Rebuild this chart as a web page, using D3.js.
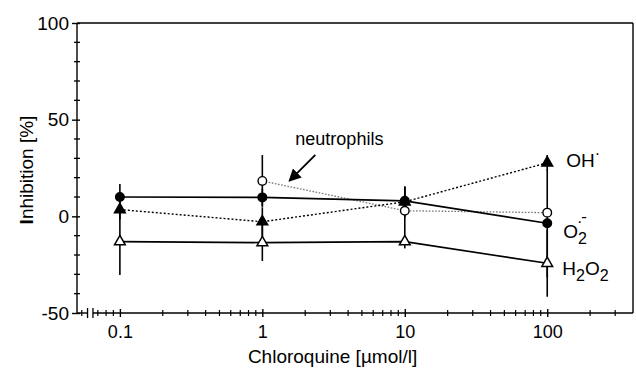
<!DOCTYPE html>
<html>
<head>
<meta charset="utf-8">
<script src="https://cdn.jsdelivr.net/npm/d3@7"></script>
<style>
  body { margin: 0; background: #fff; }
  text { font-family: 'Liberation Sans', Arial, Helvetica, sans-serif; fill: #000; }
</style>
</head>
<body>
<div id="chart"></div>
<script>
// concentrations in umol/l, values are % inhibition
var concentrations = [0.1, 1, 10, 100]
var superoxide = [10, 9.8, 8, -3.6]
var superoxideErr = [6.7, 4.5, 7, 28]
var hydroxyl = [3.5, -2.8, 7.5, 27.7]
var hydroxylErr = [5, 7.5, 8, 4]
var peroxide = [-13.1, -13.6, -13.1, -24.3]
var peroxideErr = [17.3, 9.5, 3.5, 17.3]
var neutroConc = [1, 10, 100]
var neutrophils = [18.3, 2.9, 1.9]
var neutrophilsErr = [13.4, 12.5, 2]

var yTicks = [-50, 0, 50, 100]
var xTicks = [0.1, 1, 10, 100]

var margin = { top: 23, left: 77, right: 3, bottom: 56 }
var width = 636 - margin.left - margin.right
var height = 369 - margin.top - margin.bottom

var svg = d3
  .select('#chart')
  .append('svg')
  .attr('width', width + margin.left + margin.right)
  .attr('height', height + margin.top + margin.bottom)
  .append('g')
  .attr('transform', 'translate(' + margin.left + ',' + margin.top + ')')

var xPositionScale = d3.scaleLog().domain([0.05, 400]).range([0, width])
var yPositionScale = d3.scaleLinear().domain([-50, 100]).range([height, 0])

function toPoints(xs, ys, errs) {
  return xs.map(function(x, i) {
    return { x: x, y: ys[i], err: errs[i] }
  })
}

var series = [
  { name: 'neutro', points: toPoints(neutroConc, neutrophils, neutrophilsErr), line: 'dotgrey', marker: 'circle', fill: '#fff' },
  { name: 'OH', points: toPoints(concentrations, hydroxyl, hydroxylErr), line: 'dot', marker: 'triangle', fill: '#000' },
  { name: 'O2', points: toPoints(concentrations, superoxide, superoxideErr), line: 'solid', marker: 'circle', fill: '#000' },
  { name: 'H2O2', points: toPoints(concentrations, peroxide, peroxideErr), line: 'solid', marker: 'triangle', fill: '#fff' }
]

// frame top + right
svg.append('line')
  .attr('x1', 0).attr('x2', width).attr('y1', 0).attr('y2', 0)
  .attr('stroke', '#000').attr('stroke-width', 1.4)
svg.append('line')
  .attr('x1', width).attr('x2', width).attr('y1', 0).attr('y2', height)
  .attr('stroke', '#000').attr('stroke-width', 1.4)

// y axis
var yAxis = d3.axisLeft(yPositionScale).tickValues(yTicks).tickSize(5).tickPadding(3)
  .tickFormat(function(d) { return String(d) })
var yG = svg.append('g').attr('class', 'axis y-axis').call(yAxis)
yG.select('.domain').remove()
yG.selectAll('.tick line').attr('x1', 3).attr('stroke-width', 1.4)
yG.selectAll('text').attr('font-size', 19).attr('font-family', null)
svg.append('line')
  .attr('x1', 0).attr('x2', 0).attr('y1', 0).attr('y2', height)
  .attr('stroke', '#000').attr('stroke-width', 1.4)
svg.selectAll('.y-minor')
  .data(d3.range(-40, 100, 10).filter(function(d) { return yTicks.indexOf(d) < 0 }))
  .enter()
  .append('line')
  .attr('class', 'y-minor')
  .attr('x1', -3).attr('x2', 3)
  .attr('y1', function(d) { return yPositionScale(d) })
  .attr('y2', function(d) { return yPositionScale(d) })
  .attr('stroke', '#000').attr('stroke-width', 1.3)

// x axis with a break near the y axis
var xAxis = d3.axisBottom(xPositionScale).tickValues(xTicks).tickSize(4).tickPadding(8)
  .tickFormat(d3.format('~g'))
var xG = svg.append('g').attr('class', 'axis x-axis')
  .attr('transform', 'translate(0,' + height + ')').call(xAxis)
xG.select('.domain').remove()
xG.selectAll('.tick line').attr('y1', -4).attr('stroke-width', 1.4)
xG.selectAll('text').attr('font-size', 18).attr('font-family', null)

var breakL = xPositionScale(0.0593)
var breakR = xPositionScale(0.0647)
svg.append('line')
  .attr('x1', 0).attr('x2', breakL).attr('y1', height).attr('y2', height)
  .attr('stroke', '#000').attr('stroke-width', 1.4)
svg.append('line')
  .attr('x1', breakR).attr('x2', width).attr('y1', height).attr('y2', height)
  .attr('stroke', '#000').attr('stroke-width', 1.4)
svg.selectAll('.break')
  .data([breakL, breakR])
  .enter()
  .append('line')
  .attr('x1', function(d) { return d }).attr('x2', function(d) { return d })
  .attr('y1', height - 5).attr('y2', height + 5)
  .attr('stroke', '#000').attr('stroke-width', 1.3)

var minorX = [0.054, 0.07, 0.08, 0.09]
;[0.1, 1, 10].forEach(function(decade) {
  for (var k = 2; k <= 9; k++) minorX.push(decade * k)
})
minorX.push(200, 300)
svg.selectAll('.x-minor')
  .data(minorX)
  .enter()
  .append('line')
  .attr('class', 'x-minor')
  .attr('x1', function(d) { return xPositionScale(d) })
  .attr('x2', function(d) { return xPositionScale(d) })
  .attr('y1', height - 3).attr('y2', height + 3)
  .attr('stroke', '#000').attr('stroke-width', 1.2)

// axis titles
svg.append('text')
  .attr('x', (xPositionScale(1) + xPositionScale(10)) / 2 - 1)
  .attr('y', height + 50)
  .attr('text-anchor', 'middle')
  .attr('font-size', 19)
  .text('Chloroquine [\u00b5mol/l]')

var yTitle = svg.append('text')
  .attr('transform', 'translate(-44,' + (height / 2 + 2) + ') rotate(-90)')
  .attr('text-anchor', 'middle')
  .attr('font-size', 19)
yTitle.append('tspan').attr('font-weight', 'bold').text('I')
yTitle.append('tspan').text('nhibition [%]')

// lines
var line = d3
  .line()
  .x(function(d) { return xPositionScale(d.x) })
  .y(function(d) { return yPositionScale(d.y) })

var lineStyles = {
  solid: { stroke: '#000', width: 1.6, dash: null },
  dot: { stroke: '#000', width: 1.4, dash: '2,2' },
  dotgrey: { stroke: '#777', width: 1.3, dash: '1.6,1.6' }
}

series.forEach(function(s) {
  var st = lineStyles[s.line]
  svg.append('path')
    .datum(s.points)
    .attr('d', line)
    .attr('fill', 'none')
    .attr('stroke', st.stroke)
    .attr('stroke-width', st.width)
    .attr('stroke-dasharray', st.dash)
})

// error bars
series.forEach(function(s) {
  svg.selectAll('.err-' + s.name)
    .data(s.points)
    .enter()
    .append('line')
    .attr('x1', function(d) { return xPositionScale(d.x) })
    .attr('x2', function(d) { return xPositionScale(d.x) })
    .attr('y1', function(d) { return yPositionScale(d.y + d.err) })
    .attr('y2', function(d) { return yPositionScale(d.y - d.err) })
    .attr('stroke', '#000')
    .attr('stroke-width', 1.6)
})

// markers
var tri = d3.symbol().type(d3.symbolTriangle).size(50)
series.forEach(function(s) {
  var g = svg.selectAll('.mk-' + s.name)
    .data(s.points)
    .enter()
  if (s.marker === 'circle') {
    g.append('circle')
      .attr('cx', function(d) { return xPositionScale(d.x) })
      .attr('cy', function(d) { return yPositionScale(d.y) })
      .attr('r', 4.3)
      .attr('fill', s.fill)
      .attr('stroke', '#000')
      .attr('stroke-width', 1.4)
  } else {
    g.append('path')
      .attr('d', tri)
      .attr('transform', function(d) {
        return 'translate(' + xPositionScale(d.x) + ',' + yPositionScale(d.y) + ')'
      })
      .attr('fill', s.fill)
      .attr('stroke', '#000')
      .attr('stroke-width', 1.5)
  }
})

// labels on the right
var lx = xPositionScale(100) + 16
var oh = svg.append('text')
  .attr('x', lx + 3)
  .attr('y', yPositionScale(hydroxyl[3]) + 4)
  .attr('font-size', 19)
oh.append('tspan').text('OH')
oh.append('tspan').attr('dy', -8).attr('font-size', 16).text('\u00b7')

var o2 = svg.append('text')
  .attr('x', lx)
  .attr('y', yPositionScale(superoxide[3]) + 15)
  .attr('font-size', 19)
o2.append('tspan').text('O')
o2.append('tspan').attr('dy', 6).attr('font-size', 16).text('2')
o2.append('tspan').attr('dx', -10).attr('dy', -17).attr('font-size', 16).text('\u00b7')
o2.append('tspan').attr('dx', -1).attr('dy', -5).attr('font-size', 17).text('-')

var h2 = svg.append('text')
  .attr('x', lx - 1)
  .attr('y', yPositionScale(peroxide[3]) + 12)
  .attr('font-size', 19)
h2.append('tspan').text('H')
h2.append('tspan').attr('dy', 6).attr('font-size', 16).text('2')
h2.append('tspan').attr('dy', -6).text('O')
h2.append('tspan').attr('dy', 6).attr('font-size', 16).text('2')

// neutrophils annotation with arrow
svg.append('text')
  .attr('x', xPositionScale(1) + 33)
  .attr('y', yPositionScale(neutrophils[0]) - 36)
  .attr('font-size', 18)
  .text('neutrophils')

svg.append('defs')
  .append('marker')
  .attr('id', 'arrow')
  .attr('viewBox', '0 0 10 10')
  .attr('refX', 9).attr('refY', 5)
  .attr('markerWidth', 7).attr('markerHeight', 7)
  .attr('markerUnits', 'strokeWidth')
  .attr('orient', 'auto')
  .append('path')
  .attr('d', 'M0,0 L10,5 L0,10 z')
  .attr('fill', '#000')

var ax = xPositionScale(1) + 27
var ay = yPositionScale(neutrophils[0])
svg.append('line')
  .attr('x1', ax + 26).attr('y1', ay - 26)
  .attr('x2', ax).attr('y2', ay)
  .attr('stroke', '#000')
  .attr('stroke-width', 1.8)
  .attr('marker-end', 'url(#arrow)')
</script>
</body>
</html>
